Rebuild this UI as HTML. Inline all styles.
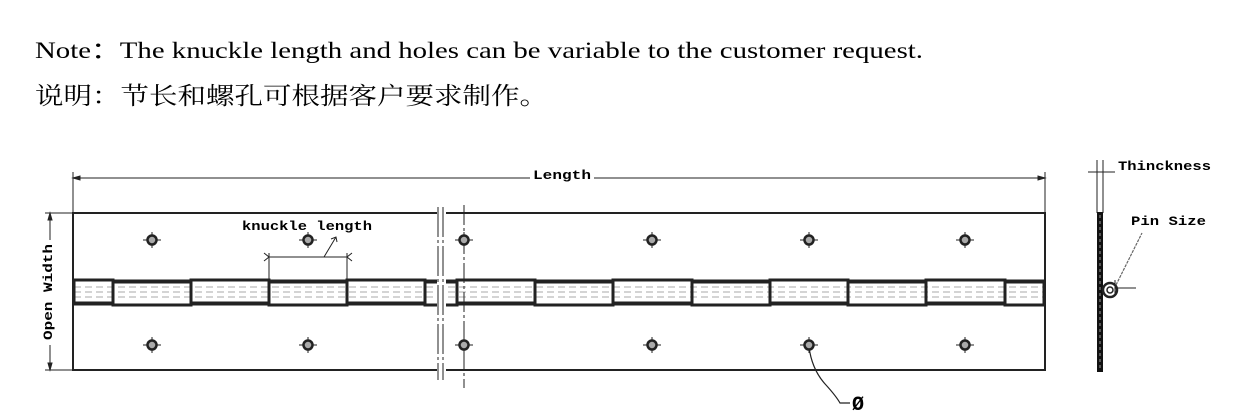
<!DOCTYPE html>
<html><head><meta charset="utf-8"><style>
html,body{margin:0;padding:0;background:#fff;width:1246px;height:419px;overflow:hidden}
svg{display:block}
.m{font-family:"Liberation Mono","DejaVu Sans Mono",monospace;font-weight:bold;font-size:13px}
</style></head><body>
<svg width="1246" height="419" viewBox="0 0 1246 419" xmlns="http://www.w3.org/2000/svg">
<text x="35" y="58" style="font-family:'Liberation Serif',serif" font-size="23" textLength="888" lengthAdjust="spacingAndGlyphs">Note：The knuckle length and holes can be variable to the customer request.</text>
<text x="35" y="104" style="font-family:'Liberation Serif','Noto Serif CJK SC',serif" font-size="24" textLength="513" lengthAdjust="spacingAndGlyphs">说明：节长和螺孔可根据客户要求制作。</text>

<g stroke="#222" fill="none">
<line x1="73" y1="178" x2="530" y2="178" stroke-width="1"/>
<line x1="594" y1="178" x2="1045" y2="178" stroke-width="1"/>
<line x1="73" y1="172" x2="73" y2="213" stroke-width="1"/>
<line x1="1045" y1="172" x2="1045" y2="213" stroke-width="1"/>
<path d="M73 178 l7 -2 v4z M1045 178 l-7 -2 v4z" fill="#222"/>
<line x1="45" y1="213" x2="73" y2="213" stroke-width="1"/>
<line x1="45" y1="370" x2="73" y2="370" stroke-width="1"/>
<line x1="50" y1="213" x2="50" y2="240" stroke-width="1"/>
<line x1="50" y1="345" x2="50" y2="370" stroke-width="1"/>
<path d="M50 213 l-2 7 h4z M50 370 l-2 -7 h4z" fill="#222"/>
<rect x="73" y="213" width="972" height="157" stroke-width="2"/>
<g stroke="#aaa" stroke-width="1" stroke-dasharray="7 4">
<line x1="74" y1="287" x2="1044" y2="287"/>
<line x1="74" y1="292" x2="1044" y2="292"/>
<line x1="74" y1="297" x2="1044" y2="297"/>
</g>
<line x1="73" y1="280" x2="1045" y2="280" stroke-width="1"/>
<line x1="73" y1="305" x2="1045" y2="305" stroke-width="1"/>
<g stroke-width="3">
<rect x="74" y="280" width="39" height="23"/>
<rect x="113" y="282" width="78" height="23"/>
<rect x="191" y="280" width="78" height="23"/>
<rect x="269" y="282" width="78" height="23"/>
<rect x="347" y="280" width="78" height="23"/>
<rect x="425" y="282" width="32" height="23"/>
<rect x="457" y="280" width="78" height="23"/>
<rect x="535" y="282" width="78" height="23"/>
<rect x="613" y="280" width="79" height="23"/>
<rect x="692" y="282" width="78" height="23"/>
<rect x="770" y="280" width="78" height="23"/>
<rect x="848" y="282" width="78" height="23"/>
<rect x="926" y="280" width="79" height="23"/>
<rect x="1005" y="282" width="39" height="23"/>
</g>
<rect x="437" y="207" width="9" height="176" fill="#fff" stroke="none"/>
<line x1="438" y1="207" x2="438" y2="380" stroke-width="1" stroke-dasharray="30 3 3 3"/>
<line x1="443" y1="207" x2="443" y2="380" stroke-width="1" stroke-dasharray="30 3 3 3"/>
<line x1="464" y1="205" x2="464" y2="388" stroke-width="1" stroke-dasharray="20 3 3 3"/>
<line x1="269" y1="257" x2="347" y2="257" stroke-width="1"/>
<line x1="269" y1="253" x2="269" y2="280" stroke-width="1"/>
<line x1="347" y1="253" x2="347" y2="280" stroke-width="1"/>
<path d="M264 253 l5 4 l-5 4 M352 253 l-5 4 l5 4" stroke-width="1"/>
<path d="M324 257 L336 237 M331 239 l5 -2 l1 5" stroke-width="1"/>
<path d="M809 347 Q812 370 826 385 Q836 396 840 403 H850" stroke-width="1.2"/>
<line x1="1097" y1="160" x2="1097" y2="213" stroke-width="1"/>
<line x1="1103" y1="160" x2="1103" y2="213" stroke-width="1"/>
<line x1="1088" y1="172" x2="1115" y2="172" stroke-width="1"/>
<rect x="1097" y="212" width="6" height="160" fill="#111" stroke="none"/>
<line x1="1100" y1="215" x2="1100" y2="370" stroke="#999" stroke-dasharray="3 3"/>
<circle cx="1110" cy="290" r="7" stroke-width="2.5"/>
<circle cx="1110" cy="290" r="3" stroke-width="1.5"/>
<line x1="1115" y1="288" x2="1136" y2="288" stroke-width="1"/>
<line x1="1115" y1="280" x2="1115" y2="296" stroke-width="1"/>
<line x1="1116" y1="285" x2="1142" y2="233" stroke="#666" stroke-width="1.2" stroke-dasharray="3 1"/>
</g>
<g stroke="#222" stroke-width="1.5" fill="#aaa">
<g transform="translate(152,240)"><path d="M-9 0h18M0 -8v16" stroke-width="1"/><circle r="4.5" stroke-width="2.5"/></g>
<g transform="translate(308,240)"><path d="M-9 0h18M0 -8v16" stroke-width="1"/><circle r="4.5" stroke-width="2.5"/></g>
<g transform="translate(464,240)"><path d="M-9 0h18M0 -8v16" stroke-width="1"/><circle r="4.5" stroke-width="2.5"/></g>
<g transform="translate(652,240)"><path d="M-9 0h18M0 -8v16" stroke-width="1"/><circle r="4.5" stroke-width="2.5"/></g>
<g transform="translate(809,240)"><path d="M-9 0h18M0 -8v16" stroke-width="1"/><circle r="4.5" stroke-width="2.5"/></g>
<g transform="translate(965,240)"><path d="M-9 0h18M0 -8v16" stroke-width="1"/><circle r="4.5" stroke-width="2.5"/></g>
<g transform="translate(152,345)"><path d="M-9 0h18M0 -8v16" stroke-width="1"/><circle r="4.5" stroke-width="2.5"/></g>
<g transform="translate(308,345)"><path d="M-9 0h18M0 -8v16" stroke-width="1"/><circle r="4.5" stroke-width="2.5"/></g>
<g transform="translate(464,345)"><path d="M-9 0h18M0 -8v16" stroke-width="1"/><circle r="4.5" stroke-width="2.5"/></g>
<g transform="translate(652,345)"><path d="M-9 0h18M0 -8v16" stroke-width="1"/><circle r="4.5" stroke-width="2.5"/></g>
<g transform="translate(809,345)"><path d="M-9 0h18M0 -8v16" stroke-width="1"/><circle r="4.5" stroke-width="2.5"/></g>
<g transform="translate(965,345)"><path d="M-9 0h18M0 -8v16" stroke-width="1"/><circle r="4.5" stroke-width="2.5"/></g>
</g>
<text class="m" x="533" y="179" textLength="58" lengthAdjust="spacingAndGlyphs">Length</text>
<text class="m" x="242" y="230" textLength="130" lengthAdjust="spacingAndGlyphs">knuckle length</text>
<text class="m" transform="translate(52,340) rotate(-90)" textLength="96" lengthAdjust="spacingAndGlyphs">Open Width</text>
<text class="m" x="1118" y="170" textLength="93" lengthAdjust="spacingAndGlyphs">Thinckness</text>
<text class="m" x="1131" y="225" textLength="75" lengthAdjust="spacingAndGlyphs">Pin Size</text>
<text x="852" y="410" style="font-family:'Liberation Mono',monospace" font-weight="bold" font-size="20">Ø</text>
</svg>
</body></html>
